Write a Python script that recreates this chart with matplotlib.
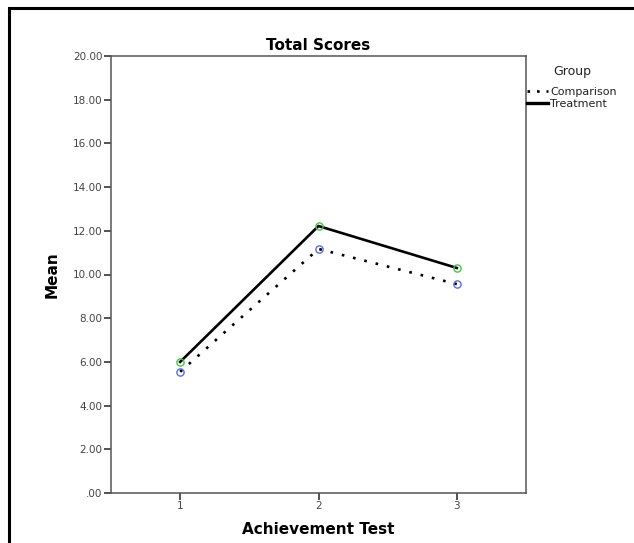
import numpy as np
import matplotlib
matplotlib.use('Agg')
import matplotlib.pyplot as plt
from matplotlib.patches import Rectangle
from matplotlib.lines import Line2D

# Data
tests = [1, 2, 3]
comparison = [5.55, 11.17, 9.56]
treatment = [6.0, 12.22, 10.30]
y_ticks = [0, 2, 4, 6, 8, 10, 12, 14, 16, 18, 20]
y_tick_labels = ['.00', '2.00', '4.00', '6.00', '8.00', '10.00',
                 '12.00', '14.00', '16.00', '18.00', '20.00']

fig = plt.figure(figsize=(6.34, 5.43), dpi=100)

# Outer frame (cut off on the right and bottom like the screenshot)
fig.patches.append(Rectangle((9 / 634, -0.05), 1.2, 1 - 8 / 543 + 0.05,
                             transform=fig.transFigure, fill=False,
                             edgecolor='black', linewidth=2.2))

ax = fig.add_axes([111 / 634, 50 / 543, 415 / 634, 437 / 543])

dotted = (0, (1, 3.4))

# Lines
ax.plot(tests, comparison, color='black', linestyle=dotted, linewidth=1.9)
ax.plot(tests, treatment, color='black', linestyle='-', linewidth=1.9)

# Open circle markers
ax.plot(tests, comparison, linestyle='none', marker='o', markersize=5.2,
        markerfacecolor='none', markeredgecolor='#5a6fd2', markeredgewidth=1)
ax.plot(tests, treatment, linestyle='none', marker='o', markersize=5.2,
        markerfacecolor='none', markeredgecolor='#4cc24c', markeredgewidth=1)

ax.set_xlim(0.5, 3.5)
ax.set_ylim(0, 20)
ax.set_xticks(tests)
ax.set_xticklabels([str(t) for t in tests])
ax.set_yticks(y_ticks)
ax.set_yticklabels(y_tick_labels)

ax.tick_params(axis='both', labelsize=7.5, colors='#444444', length=5,
               width=1.3, pad=1)
for s in ax.spines.values():
    s.set_color('#555555')
    s.set_linewidth(1.1)

ax.set_title('Total Scores', fontsize=11, fontweight='bold', pad=4)
ax.set_xlabel('Achievement Test', fontsize=11, fontweight='bold', labelpad=8)
ax.set_ylabel('Mean', fontsize=11, fontweight='bold', labelpad=10)

# Legend: title as separate text, entries below
fig.text(572 / 634, 1 - 72 / 543, 'Group', fontsize=9, color='#222222',
         ha='center', va='center')
handles = [Line2D([0], [0], color='black', linestyle=(0, (1, 2.6)), linewidth=1.9),
           Line2D([0], [0], color='black', linestyle='-', linewidth=2.4)]
leg = fig.legend(handles, ['Comparison', 'Treatment'],
                 loc='upper left', bbox_to_anchor=(527 / 634, 1 - 87 / 543),
                 frameon=False, fontsize=8, labelcolor='#222222',
                 handlelength=1.9, handletextpad=0.2, labelspacing=0.2,
                 borderaxespad=0, borderpad=0)

fig.savefig('out.png', dpi=100)
